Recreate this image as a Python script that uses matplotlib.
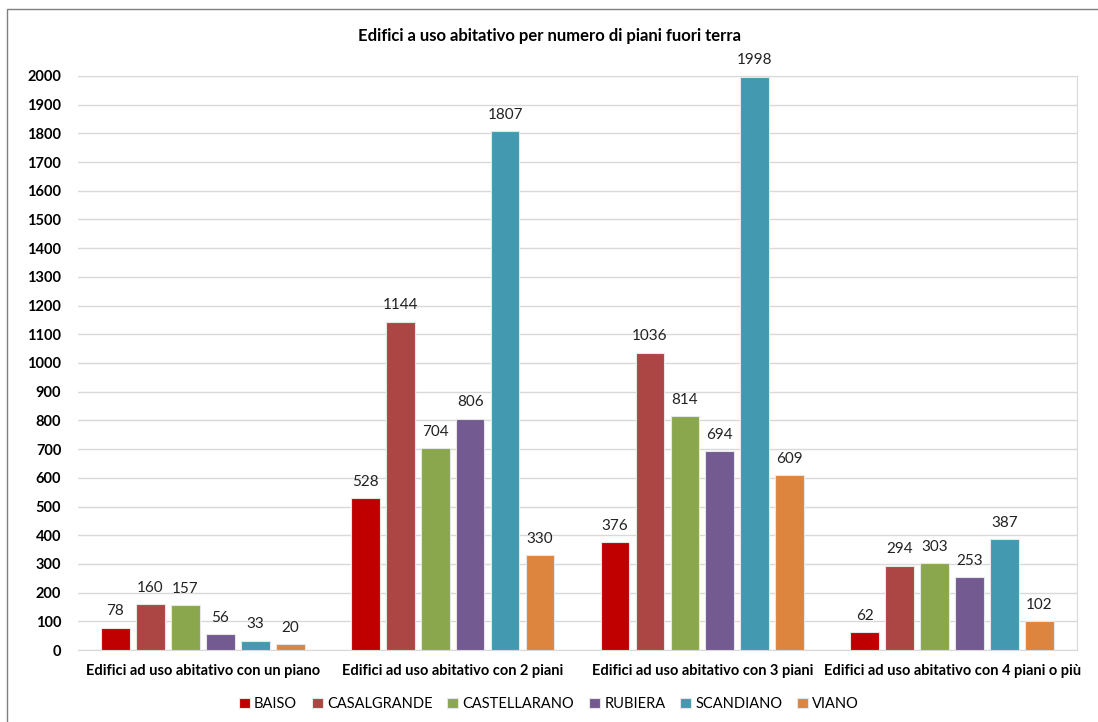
import matplotlib
matplotlib.use('Agg')
import matplotlib.pyplot as plt
import numpy as np

plt.rcParams['font.family'] = ['Lato', 'DejaVu Sans']

categorie = ['Edifici ad uso abitativo con un piano',
             'Edifici ad uso abitativo con 2 piani',
             'Edifici ad uso abitativo con 3 piani',
             'Edifici ad uso abitativo con 4 piani o più']
comuni = ['BAISO', 'CASALGRANDE', 'CASTELLARANO', 'RUBIERA', 'SCANDIANO', 'VIANO']
baiso = [78, 528, 376, 62]
casalgrande = [160, 1144, 1036, 294]
castellarano = [157, 704, 814, 303]
rubiera = [56, 806, 694, 253]
scandiano = [33, 1807, 1998, 387]
viano = [20, 330, 609, 102]
serie = [baiso, casalgrande, castellarano, rubiera, scandiano, viano]
colori = ['#C00000', '#AB4644', '#8BA74E', '#735A91', '#4399B0', '#DD843F']

fig = plt.figure(figsize=(10.98, 7.22), dpi=100)
ax = fig.add_axes([78 / 1098, 1 - 650 / 722, 999 / 1098, 574 / 722])

x = np.arange(len(categorie))
step = 0.14
width = 0.115
for i, (nome, valori, col) in enumerate(zip(comuni, serie, colori)):
    pos = x + (i - 2.5) * step
    bars = ax.bar(pos, valori, width, color=col, edgecolor='#E6E6E6', linewidth=0.8,
                  label=nome, zorder=3)
    for b, v in zip(bars, valori):
        ax.text(b.get_x() + b.get_width() / 2, v + 32, str(v), ha='center', va='bottom',
                fontsize=11, color='#222222')

ax.set_xlim(-0.5, 3.5)
ax.set_ylim(0, 2000)
ax.set_yticks(np.arange(0, 2001, 100))
ax.grid(axis='y', color='#D9D9D9', linewidth=1, zorder=0)
ax.set_xticks(x)
ax.set_xticklabels(categorie, fontsize=10.5, fontweight='bold')
ax.tick_params(axis='x', length=0, pad=10)
ax.tick_params(axis='y', length=0, labelsize=10.5, pad=12)
for t in ax.get_yticklabels():
    t.set_fontweight('bold')
for s in ['top', 'right']:
    ax.spines[s].set_color('#D9D9D9')
ax.spines['left'].set_visible(False)
ax.spines['bottom'].set_color('#D9D9D9')
ax.spines['right'].set_visible(True)

fig.text(0.5, 1 - 36 / 722, 'Edifici a uso abitativo per numero di piani fuori terra',
         ha='center', va='center', fontsize=12, fontweight='bold')

fig.legend(loc='center', bbox_to_anchor=(0.5, 1 - 704 / 722), ncol=6, frameon=False,
           fontsize=10.5, handlelength=0.75, handleheight=0.75, handletextpad=0.3,
           columnspacing=1.0)

# cornice del grafico
fig.patches.append(plt.Rectangle((7 / 1098, -0.01), 1.1, 1 - 9 / 722 + 0.01,
                                 transform=fig.transFigure, fill=False,
                                 edgecolor='#7F7F7F', linewidth=1))

plt.savefig('out.png', dpi=100)
plt.close()
